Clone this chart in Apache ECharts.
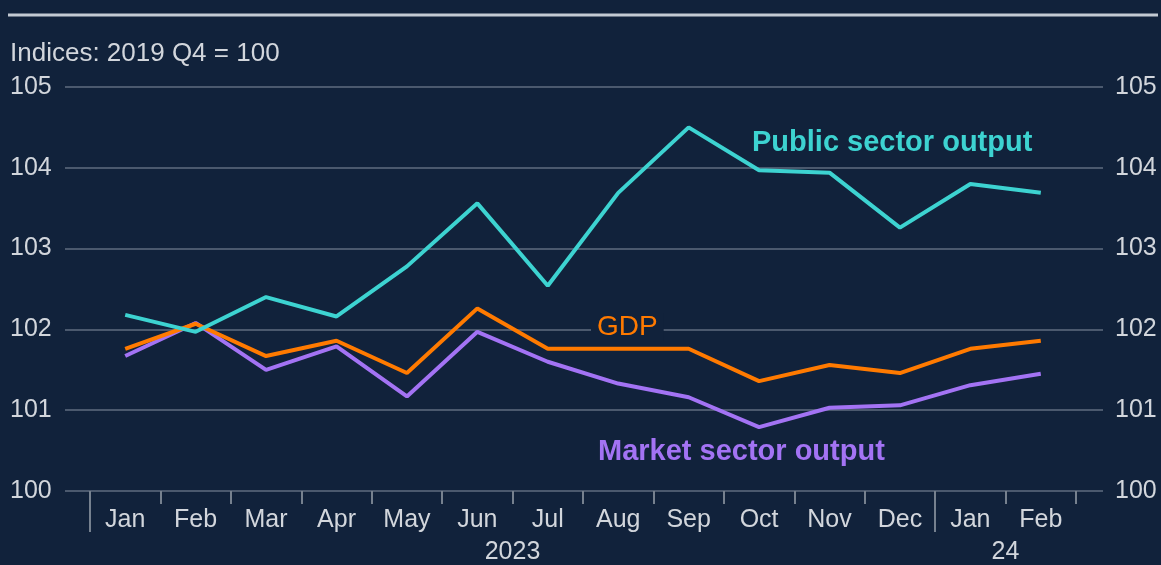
<!DOCTYPE html>
<html>
<head>
<meta charset="utf-8">
<script src="https://cdn.jsdelivr.net/npm/echarts@6/dist/echarts.min.js"></script>
<style>
html,body{margin:0;padding:0;background:#11223b;}
#chart{width:1161px;height:565px;}
</style>
</head>
<body>
<div id="chart"></div>
<script>
const months = ['Jan','Feb','Mar','Apr','May','Jun','Jul','Aug','Sep','Oct','Nov','Dec','Jan','Feb'];
const years = ['2023'];
const years2 = ['24'];
const publicSector = [102.18, 101.97, 102.40, 102.16, 102.78, 103.56, 102.54, 103.69, 104.50, 103.97, 103.94, 103.26, 103.80, 103.69];
const gdp = [101.76, 102.07, 101.67, 101.86, 101.46, 102.26, 101.76, 101.76, 101.76, 101.36, 101.56, 101.46, 101.76, 101.86];
const marketSector = [101.67, 102.08, 101.50, 101.79, 101.17, 101.97, 101.60, 101.33, 101.16, 100.79, 101.03, 101.06, 101.31, 101.45];
const yTicks = {min: 100, max: 105, interval: 1};

const FONT = 'Liberation Sans, Arial, sans-serif';
const BG = '#11223b';
const TXT = '#d2d6dc';
const GRID = '#4b596e';
const TICK = '#76818f';
const C_PUB = '#3dd3d1';
const C_GDP = '#ff7a00';
const C_MKT = '#a373f4';
const FS = 25;

const chart = echarts.init(document.getElementById('chart'));
const hiddenY = (gi) => ({type:'value', gridIndex: gi, min: yTicks.min, max: yTicks.max, interval: yTicks.interval, show: false});
chart.setOption({
  backgroundColor: BG,
  animation: false,
  grid: [
    {left: 65, right: 58, top: 87, bottom: 74},
    {left: 90, right: 85, top: 87, bottom: 74},
    {left: 90, right: 226, top: 87, bottom: 74},
    {left: 935, right: 85, top: 87, bottom: 74}
  ],
  xAxis: [
    {type: 'value', gridIndex: 0, min: 0, max: 1, show: false},
    {type: 'category', gridIndex: 1, data: months, boundaryGap: true,
     axisLine: {show: false},
     axisTick: {show: true, length: 13, lineStyle: {color: TICK, width: 2}},
     axisLabel: {color: TXT, fontSize: FS, fontFamily: FONT, margin: 17, interval: 0},
     splitLine: {show: false}},
    {type: 'category', gridIndex: 2, data: years, boundaryGap: true,
     axisLine: {show: false},
     axisTick: {show: true, length: 41, lineStyle: {color: TICK, width: 2}},
     axisLabel: {color: TXT, fontSize: FS, fontFamily: FONT, margin: 49},
     splitLine: {show: false}},
    {type: 'category', gridIndex: 3, data: years2, boundaryGap: true,
     axisLine: {show: false},
     axisTick: {show: false},
     axisLabel: {color: TXT, fontSize: FS, fontFamily: FONT, margin: 49},
     splitLine: {show: false}}
  ],
  yAxis: [
    {type: 'value', gridIndex: 0, position: 'left', min: yTicks.min, max: yTicks.max, interval: yTicks.interval,
     axisLine: {show: false}, axisTick: {show: false},
     axisLabel: {color: TXT, fontSize: FS, fontFamily: FONT, align: 'left', margin: 55},
     splitLine: {show: true, lineStyle: {color: GRID, width: 2}}},
    {type: 'value', gridIndex: 0, position: 'right', min: yTicks.min, max: yTicks.max, interval: yTicks.interval,
     axisLine: {show: false}, axisTick: {show: false},
     axisLabel: {color: TXT, fontSize: FS, fontFamily: FONT, align: 'left', margin: 12},
     splitLine: {show: false}},
    hiddenY(1), hiddenY(2), hiddenY(3)
  ],
  series: [
    {name: 'Market sector output', type: 'line', xAxisIndex: 1, yAxisIndex: 2, data: marketSector,
     showSymbol: false, lineStyle: {color: C_MKT, width: 4}, itemStyle: {color: C_MKT}},
    {name: 'GDP', type: 'line', xAxisIndex: 1, yAxisIndex: 2, data: gdp,
     showSymbol: false, lineStyle: {color: C_GDP, width: 4}, itemStyle: {color: C_GDP}},
    {name: 'Public sector output', type: 'line', xAxisIndex: 1, yAxisIndex: 2, data: publicSector,
     showSymbol: false, lineStyle: {color: C_PUB, width: 4}, itemStyle: {color: C_PUB}}
  ],
  graphic: [
    {type: 'line', shape: {x1: 8, y1: 15, x2: 1158, y2: 15}, style: {stroke: '#c3cad3', lineWidth: 3}},
    {type: 'text', x: 10, y: 54, style: {text: 'Indices: 2019 Q4 = 100', fill: TXT, font: '26px ' + FONT, verticalAlign: 'middle'}},
    {type: 'text', x: 752, y: 143, style: {text: 'Public sector output', fill: C_PUB, font: 'bold 29px ' + FONT, verticalAlign: 'middle'}},
    {type: 'text', x: 591, y: 327, z: 10, style: {text: 'GDP', fill: C_GDP, font: '28px ' + FONT, verticalAlign: 'middle',
      backgroundColor: BG, padding: [0, 6, 0, 6]}},
    {type: 'text', x: 598, y: 452, style: {text: 'Market sector output', fill: C_MKT, font: 'bold 29px ' + FONT, verticalAlign: 'middle'}}
  ]
});
</script>
</body>
</html>
